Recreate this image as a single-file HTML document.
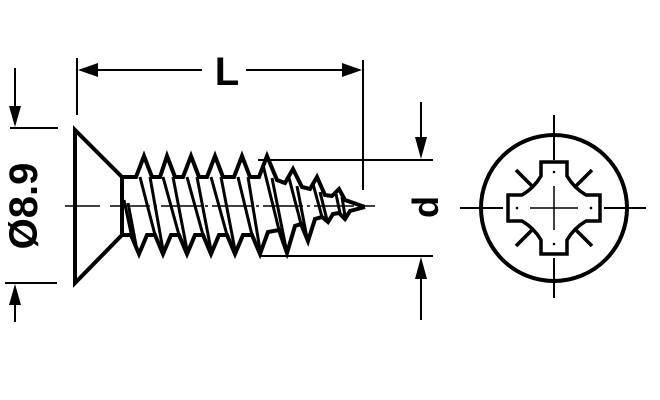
<!DOCTYPE html>
<html><head><meta charset="utf-8"><style>html,body{margin:0;padding:0;background:#fff}svg{display:block}</style></head>
<body>
<svg width="660" height="400" viewBox="0 0 660 400" xmlns="http://www.w3.org/2000/svg">
<g stroke="#000" fill="none" stroke-width="2">
<line x1="77" y1="58" x2="77" y2="115"/>
<line x1="363" y1="60" x2="363" y2="190"/>
<line x1="95" y1="70" x2="202" y2="70"/>
<line x1="246" y1="70" x2="345" y2="70"/>
<line x1="15" y1="68" x2="15" y2="110"/>
<line x1="10" y1="128" x2="58" y2="128"/>
<line x1="5" y1="283" x2="57" y2="283"/>
<line x1="15" y1="300" x2="15" y2="322"/>
<line x1="421" y1="102" x2="421" y2="140"/>
<line x1="258" y1="160" x2="433" y2="160"/>
<line x1="260" y1="256" x2="433" y2="256"/>
<line x1="421" y1="276" x2="421" y2="320"/>
<line x1="65" y1="206" x2="100" y2="206" stroke-width="1.5"/>
<line x1="110" y1="206" x2="375" y2="206" stroke-width="1.5" stroke-dasharray="40 4 3 4"/>
<g stroke-width="4">
<polyline points="122,177 75,130 75,283 122,235"/>
<line x1="122" y1="175" x2="122" y2="237"/>
<polyline stroke-linejoin="miter" points="122,177 136,177 144,156 152,177 160,177 167,156 175,177 183,177 191,156 199,177 207,177 215,156 223,177 234,177 242,156 250,177 259,177 267,156 277,180 285,183 293,169 302,187 310,189 317,177 325,195 332,196 339,189 345,200 365,207"/>
<polyline stroke-linejoin="miter" points="122,235 131,235 139,254 147,235 155,235 163,254 171,235 179,235 187,254 195,235 203,235 211,254 219,235 227,235 235,254 243,235 252,235 260,254 268,232 279,230 287,253 295,226 301,224 308,241 315,219 322,217 328,222 333,214 339,213 345,219 350,211 365,207"/>
</g>
<g stroke-width="3">
<line x1="128" y1="203" x2="136" y2="245"/>
<line x1="124" y1="200" x2="131" y2="233"/>
<line x1="140" y1="177" x2="155" y2="235"/><line x1="150" y1="177" x2="163" y2="250"/>
<line x1="163" y1="177" x2="179" y2="235"/><line x1="173" y1="177" x2="187" y2="250"/>
<line x1="187" y1="177" x2="203" y2="235"/><line x1="197" y1="177" x2="211" y2="250"/>
<line x1="211" y1="177" x2="227" y2="235"/><line x1="221" y1="177" x2="235" y2="250"/>
<line x1="238" y1="177" x2="252" y2="235"/><line x1="248" y1="177" x2="260" y2="250"/>
<line x1="263" y1="165" x2="279" y2="230"/><line x1="272" y1="178" x2="286" y2="248"/>
<line x1="289" y1="178" x2="301" y2="224"/><line x1="297" y1="186" x2="307" y2="238"/>
<line x1="313" y1="184" x2="322" y2="217"/><line x1="320" y1="192" x2="327" y2="220"/>
<line x1="336" y1="194" x2="340" y2="213"/><line x1="342" y1="197" x2="345" y2="216"/>
</g>
<circle cx="554" cy="208" r="73" stroke-width="4"/>
<line x1="460" y1="208" x2="503" y2="208"/><line x1="604" y1="208" x2="646" y2="208"/>
<line x1="554" y1="115" x2="554" y2="160"/><line x1="554" y1="258" x2="554" y2="298"/>
<line x1="530" y1="208" x2="578" y2="208" stroke-width="1.5"/>
<line x1="554" y1="186" x2="554" y2="230" stroke-width="1.5"/>
<path stroke-width="3.5" d="M541,162 H567 V176 Q574,188 586,195 H600 V221 H586 Q574,228 567,240 V254 H541 V240 Q534,228 522,221 H508 V195 H522 Q534,188 541,176 Z"/>
<g stroke-width="3.5">
<line x1="516" y1="170" x2="533" y2="187"/><line x1="592" y1="170" x2="575" y2="187"/>
<line x1="516" y1="246" x2="533" y2="229"/><line x1="592" y1="246" x2="575" y2="229"/>
</g>
</g>
<g fill="#000">
<circle cx="554" cy="172" r="1.3"/><circle cx="554" cy="244" r="1.3"/>
<circle cx="517" cy="208" r="1.3"/><circle cx="591" cy="208" r="1.3"/>
<polygon points="78,70 98,63 98,77"/>
<polygon points="362,70 342,63 342,77"/>
<polygon points="15,127 9,106 21,106"/>
<polygon points="15,284 9,305 21,305"/>
<polygon points="421,159 415,137 427,137"/>
<polygon points="421,257 415,279 427,279"/>
</g>
<text x="227" y="85" font-family="Liberation Sans, sans-serif" font-weight="bold" font-size="40" text-anchor="middle">L</text>
<text transform="translate(37,206) rotate(-90)" font-family="Liberation Sans, sans-serif" font-weight="bold" font-size="40" text-anchor="middle">Ø8.9</text>
<text transform="translate(438,207) rotate(-90)" font-family="Liberation Sans, sans-serif" font-weight="bold" font-size="36" text-anchor="middle">d</text>
</svg>
</body></html>
